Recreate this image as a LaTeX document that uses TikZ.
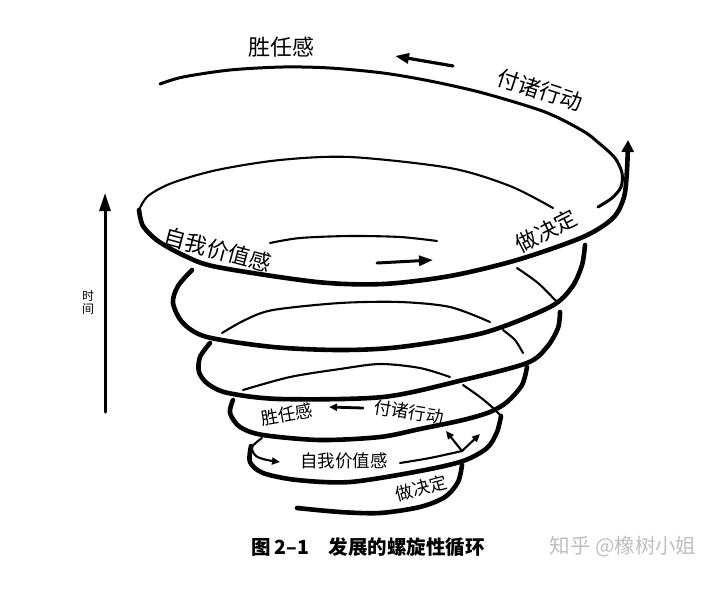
\documentclass[tikz,border=0pt]{standalone}
\usepackage{fontspec}
\newfontfamily\cjk{Noto Sans CJK SC}
\usetikzlibrary{arrows.meta}
\begin{document}
\begin{tikzpicture}[x=1pt,y=-1pt,line cap=round,line join=round,
  front/.style={line width=4.6pt},
  back/.style={line width=2.1pt},
  outer/.style={line width=3pt},
  lbl/.style={font=\cjk\fontsize{22}{22}\selectfont,inner sep=0pt},
  lblsmall/.style={font=\cjk\fontsize{17.5}{17.5}\selectfont,inner sep=0pt},
  tip/.style={-{Triangle[length=14pt,width=10pt]}},
  smalltip/.style={-{Triangle[length=8pt,width=7pt]}}]
\useasboundingbox (0,0) rectangle (720,603);

% time axis
\draw[line width=3pt,-{Triangle[length=18pt,width=11pt]}] (105,412) -- (105,193);
\node[font=\cjk\fontsize{12}{13}\selectfont,align=center,inner sep=0pt] (shijian) at (88,302) {时\\间};

% outer top turn
\draw[outer] plot[smooth] coordinates {(598,207) (612,198) (621,187) (622,173) (615,158) (600,144) (583,131) (545,112) (483,93) (430,81) (383,73) (330,68) (283,67) (230,70) (183,77) (160,84)};

% back arcs
\draw[back] plot[smooth] coordinates {(553,208) (510,186) (450,168) (350,157) (280,160) (217,170) (172,183) (148,196) (139,210)};
\draw[back] plot[smooth] coordinates {(557,302) (538,283) (517,268)};
\draw[back] plot[smooth] coordinates {(437,241) (400,237) (350,236) (300,238) (270,243)};
\draw[back] plot[smooth] coordinates {(222,333) (245,320) (273,310) (340,303) (400,302) (450,307) (490,322)};
\draw[back] plot[smooth] coordinates {(503,330) (515,340) (523,353)};
\draw[back] plot[smooth] coordinates {(243,390) (290,377) (340,369) (380,364) (420,368) (450,377)};
\draw[back] plot[smooth] coordinates {(463,385) (480,397) (492,407) (501,416)};

% front arcs
\draw[front,-{Triangle[length=12pt,width=12pt]}] plot[smooth] coordinates {(139,210) (143,226) (158,241) (185,256) (217,267) (317,282) (383,284) (450,276) (517,260) (583,237) (613,218) (624,197) (627,170) (628,140)};
\draw[front] plot[smooth] coordinates {(192,270) (178,286) (173,303) (183,323) (207,337) (273,347) (340,350) (400,347) (483,333) (550,307) (572,287) (582,265) (585,245)};
\draw[front] plot[smooth] coordinates {(210,343) (200,357) (199,372) (208,384) (228,393) (280,399) (383,397) (463,380) (527,363) (547,347) (558,328) (560,312)};
\draw[front] plot[smooth] coordinates {(233,400) (230,413) (240,427) (263,435) (320,440) (380,437) (420,429) (463,420) (490,412) (507,402) (522,385) (527,367)};
\draw[front] plot[smooth] coordinates {(251,446) (250,462) (263,473) (297,480) (350,482) (420,471) (463,461) (487,448) (497,432) (501,416)};
\draw[front] plot[smooth] coordinates {(297,508) (340,512) (380,513) (420,507) (445,497) (458,482) (462,465)};

% inner small arrows
\draw[back,smalltip] plot[smooth] coordinates {(262,438) (252,447) (256,456) (267,460) (280,462)};
\draw[back] plot[smooth] coordinates {(400,463) (430,458) (462,451)};
\draw[back,smalltip] (462,451) -- (480,434);
\draw[back,smalltip] (462,451) -- (446,431);

% top labels
\node[lbl] (shengren) at (281,47) {胜任感};
\node[lbl,rotate=-18] (fuzhu) at (540,90) {付诸行动};
\node[lbl,rotate=-15] (ziwo) at (218,250) {自我价值感};
\node[lbl,rotate=27] (zuo) at (546,231) {做决定};
\draw[line width=3.2pt,tip] (453,66) -- (395,56);
\draw[line width=3pt,tip] (377,263) -- (433,260);

% inner labels
\node[lblsmall,rotate=10] (shengren2) at (287,414) {胜任感};
\node[lblsmall,rotate=-9] (fuzhu2) at (409,412) {付诸行动};
\node[lblsmall] (ziwo2) at (344,461) {自我价值感};
\node[lblsmall,rotate=15] (zuo2) at (421,488) {做决定};
\draw[line width=2.8pt,smalltip] (363,408) -- (329,407);

% caption
\node[font=\cjk\bfseries\fontsize{19.5}{19.5}\selectfont,inner sep=0pt] (caption) at (368,547) {图 2–1\quad 发展的螺旋性循环};
\node[font=\cjk\fontsize{20.5}{20.5}\selectfont,text=black!25,inner sep=0pt] (mark) at (623,547) {知乎 @橡树小姐};
\end{tikzpicture}
\end{document}
